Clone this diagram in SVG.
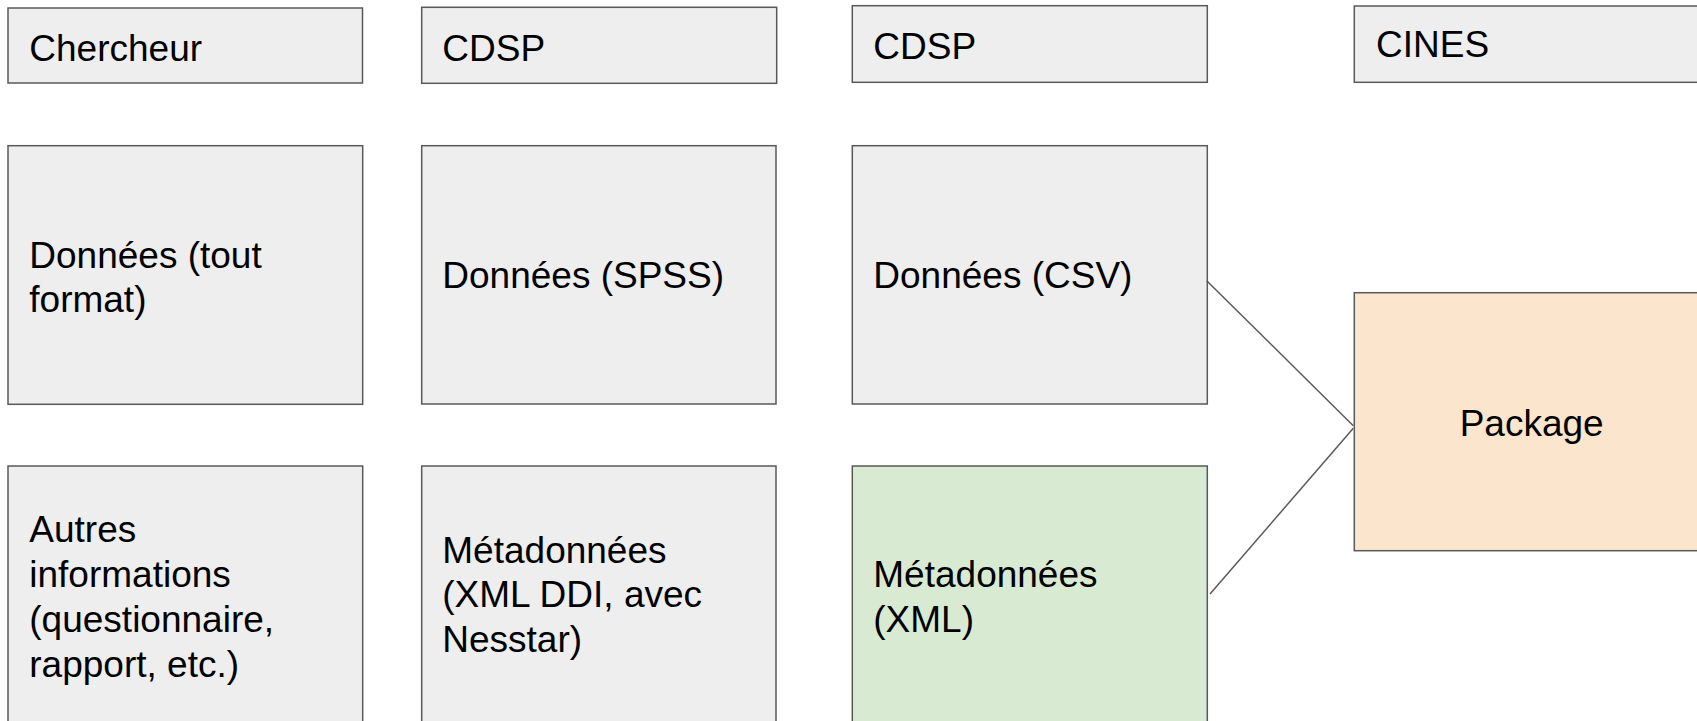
<svg xmlns="http://www.w3.org/2000/svg" width="1697" height="721" viewBox="0 0 1697 721">
<style>
.n rect{stroke:#595959;stroke-width:1.5}
.g{fill:#eeeeee}
.gr{fill:#d9ead3}
.o{fill:#fce5cd}
text{font-family:"Liberation Sans",Arial,sans-serif;font-size:37px;fill:#000}
.c{stroke:#595959;stroke-width:1.5;fill:none}
</style>
<g id="n-chercheur" class="n"><rect class="g" x="8" y="8" width="354.5" height="75"/><text x="29.3" y="61">Chercheur</text></g>
<g id="n-cdsp1" class="n"><rect class="g" x="421.7" y="7.3" width="355" height="76"/><text x="442.3" y="61">CDSP</text></g>
<g id="n-cdsp2" class="n"><rect class="g" x="852.3" y="5.7" width="355" height="76.6"/><text x="873.3" y="58.7">CDSP</text></g>
<g id="n-cines" class="n"><rect class="g" x="1354.3" y="6" width="360" height="76.3"/><text x="1376" y="56.5">CINES</text></g>
<g id="n-donnees-tout" class="n"><rect class="g" x="8" y="145.7" width="354.7" height="258.6"/><text x="29.3" y="267.7">Données (tout</text><text x="29.3" y="311.7">format)</text></g>
<g id="n-donnees-spss" class="n"><rect class="g" x="421.7" y="145.7" width="354.3" height="258.3"/><text x="442.3" y="288.3">Données (SPSS)</text></g>
<g id="n-donnees-csv" class="n"><rect class="g" x="852.3" y="145.7" width="355" height="258.3"/><text x="873.3" y="288.3">Données (CSV)</text></g>
<g id="n-autres" class="n"><rect class="g" x="8" y="466" width="354.7" height="280"/><text x="29.3" y="541.5">Autres</text><text x="29.3" y="586.5">informations</text><text x="29.3" y="631.5">(questionnaire,</text><text x="29.3" y="676.5">rapport, etc.)</text></g>
<g id="n-meta-ddi" class="n"><rect class="g" x="421.7" y="466" width="354.3" height="280"/><text x="442.3" y="562.7">Métadonnées</text><text x="442.3" y="607">(XML DDI, avec</text><text x="442.3" y="651.5">Nesstar)</text></g>
<g id="n-meta-xml" class="n"><rect class="gr" x="852.3" y="466" width="355" height="280"/><text x="873.3" y="586.7">Métadonnées</text><text x="873.3" y="631.5">(XML)</text></g>
<g id="n-package" class="n"><rect class="o" x="1354.3" y="292.7" width="360" height="258"/><text x="1531.7" y="435.7" text-anchor="middle">Package</text></g>
<g id="connectors">
<line class="c" x1="1206.7" y1="280.7" x2="1353.3" y2="425.7"/>
<line class="c" x1="1210" y1="594" x2="1353.3" y2="428.3"/>
</g>
</svg>
